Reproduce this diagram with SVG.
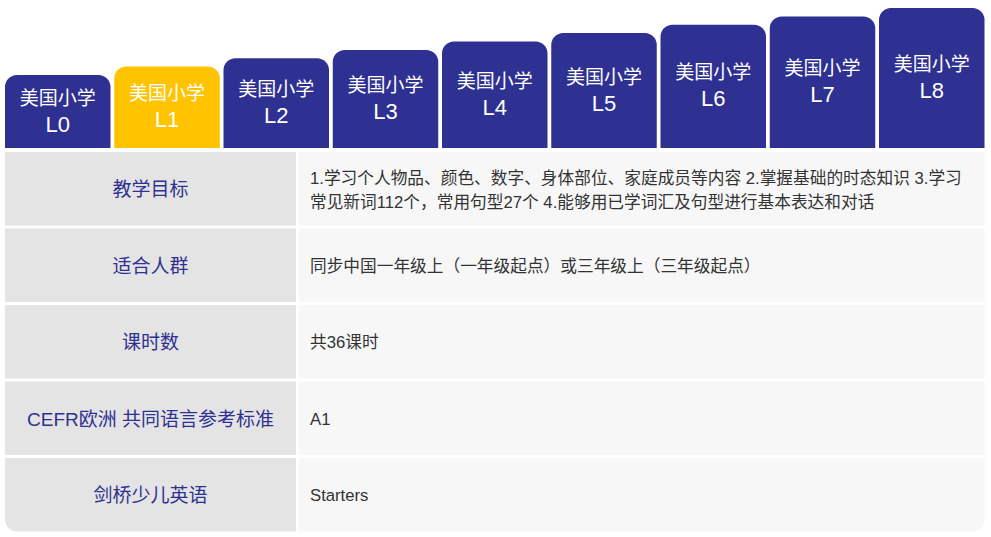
<svg xmlns="http://www.w3.org/2000/svg" width="991" height="537" viewBox="0 0 991 537">
<style>
.tab{fill:#2e3192}
.tab.on{fill:#ffc300}
.tt{font-family:"Liberation Sans","Noto Sans CJK SC",sans-serif;fill:#ffffff;text-anchor:middle}
.cn{font-size:19px}
.lv{font-size:22px}
.lc{fill:#e4e4e4}
.rc{fill:#f7f7f7}
.lbl{font-family:"Liberation Sans","Noto Sans CJK SC",sans-serif;font-size:19px;fill:#2e3192;text-anchor:middle}
.val{font-family:"Liberation Sans","Noto Sans CJK SC",sans-serif;font-size:16.7px;fill:#333333}
</style>
<rect width="991" height="537" fill="#ffffff"/>
<g id="tabs">
<g id="tab-L0"><path class="tab" d="M5,148 V87 A12,12 0 0 1 17,75 H98.5 A12,12 0 0 1 110.5,87 V148 Z"/><text class="tt cn" x="57.75" y="104.5">美国小学</text><text class="tt lv" x="57.75" y="131.5">L0</text></g>
<g id="tab-L1"><path class="tab on" d="M114.25,148 V78.6 A12,12 0 0 1 126.25,66.6 H207.75 A12,12 0 0 1 219.75,78.6 V148 Z"/><text class="tt cn" x="167" y="100.3">美国小学</text><text class="tt lv" x="167" y="127.3">L1</text></g>
<g id="tab-L2"><path class="tab" d="M223.5,148 V70.25 A12,12 0 0 1 235.5,58.25 H317 A12,12 0 0 1 329,70.25 V148 Z"/><text class="tt cn" x="276.25" y="96.1">美国小学</text><text class="tt lv" x="276.25" y="123.1">L2</text></g>
<g id="tab-L3"><path class="tab" d="M332.75,148 V61.9 A12,12 0 0 1 344.75,49.9 H426.25 A12,12 0 0 1 438.25,61.9 V148 Z"/><text class="tt cn" x="385.5" y="92">美国小学</text><text class="tt lv" x="385.5" y="119">L3</text></g>
<g id="tab-L4"><path class="tab" d="M442,148 V53.5 A12,12 0 0 1 454,41.5 H535.5 A12,12 0 0 1 547.5,53.5 V148 Z"/><text class="tt cn" x="494.75" y="87.75">美国小学</text><text class="tt lv" x="494.75" y="114.75">L4</text></g>
<g id="tab-L5"><path class="tab" d="M551.25,148 V45.1 A12,12 0 0 1 563.25,33.1 H644.75 A12,12 0 0 1 656.75,45.1 V148 Z"/><text class="tt cn" x="604" y="83.5">美国小学</text><text class="tt lv" x="604" y="110.5">L5</text></g>
<g id="tab-L6"><path class="tab" d="M660.5,148 V36.75 A12,12 0 0 1 672.5,24.75 H754 A12,12 0 0 1 766,36.75 V148 Z"/><text class="tt cn" x="713.25" y="79.4">美国小学</text><text class="tt lv" x="713.25" y="106.4">L6</text></g>
<g id="tab-L7"><path class="tab" d="M769.75,148 V28.4 A12,12 0 0 1 781.75,16.4 H863.25 A12,12 0 0 1 875.25,28.4 V148 Z"/><text class="tt cn" x="822.5" y="75.2">美国小学</text><text class="tt lv" x="822.5" y="102.2">L7</text></g>
<g id="tab-L8"><path class="tab" d="M879,148 V20 A12,12 0 0 1 891,8 H972.5 A12,12 0 0 1 984.5,20 V148 Z"/><text class="tt cn" x="931.75" y="71">美国小学</text><text class="tt lv" x="931.75" y="98">L8</text></g>
</g>
<g id="table">
<g id="row-goal">
<rect class="lc" x="5" y="152" width="291" height="73.5"/>
<rect class="rc" x="299" y="152" width="685.5" height="73.5"/>
<text class="lbl" x="150.5" y="196">教学目标</text>
<text class="val" x="310" y="184">1.学习个人物品、颜色、数字、身体部位、家庭成员等内容 2.掌握基础的时态知识 3.学习</text>
<text class="val" x="310" y="208">常见新词112个，常用句型27个 4.能够用已学词汇及句型进行基本表达和对话</text>
</g>
<g id="row-people">
<rect class="lc" x="5" y="228.5" width="291" height="73.5"/>
<rect class="rc" x="299" y="228.5" width="685.5" height="73.5"/>
<text class="lbl" x="150.5" y="272.5">适合人群</text>
<text class="val" x="310" y="271.75">同步中国一年级上（一年级起点）或三年级上（三年级起点）</text>
</g>
<g id="row-hours">
<rect class="lc" x="5" y="305" width="291" height="73.5"/>
<rect class="rc" x="299" y="305" width="685.5" height="73.5"/>
<text class="lbl" x="150.5" y="349">课时数</text>
<text class="val" x="310" y="348.25">共36课时</text>
</g>
<g id="row-cefr">
<rect class="lc" x="5" y="381.5" width="291" height="73.5"/>
<rect class="rc" x="299" y="381.5" width="685.5" height="73.5"/>
<text class="lbl" x="150.5" y="425.5">CEFR欧洲 共同语言参考标准</text>
<text class="val" x="310" y="424.5">A1</text>
</g>
<g id="row-cambridge">
<path class="lc" d="M5,458 H296 V531.5 H17 A12,12 0 0 1 5,519.5 Z"/>
<path class="rc" d="M299,458 H984.5 V519.5 A12,12 0 0 1 972.5,531.5 H299 Z"/>
<text class="lbl" x="150.5" y="502">剑桥少儿英语</text>
<text class="val" x="310" y="501">Starters</text>
</g>
</g>
</svg>
